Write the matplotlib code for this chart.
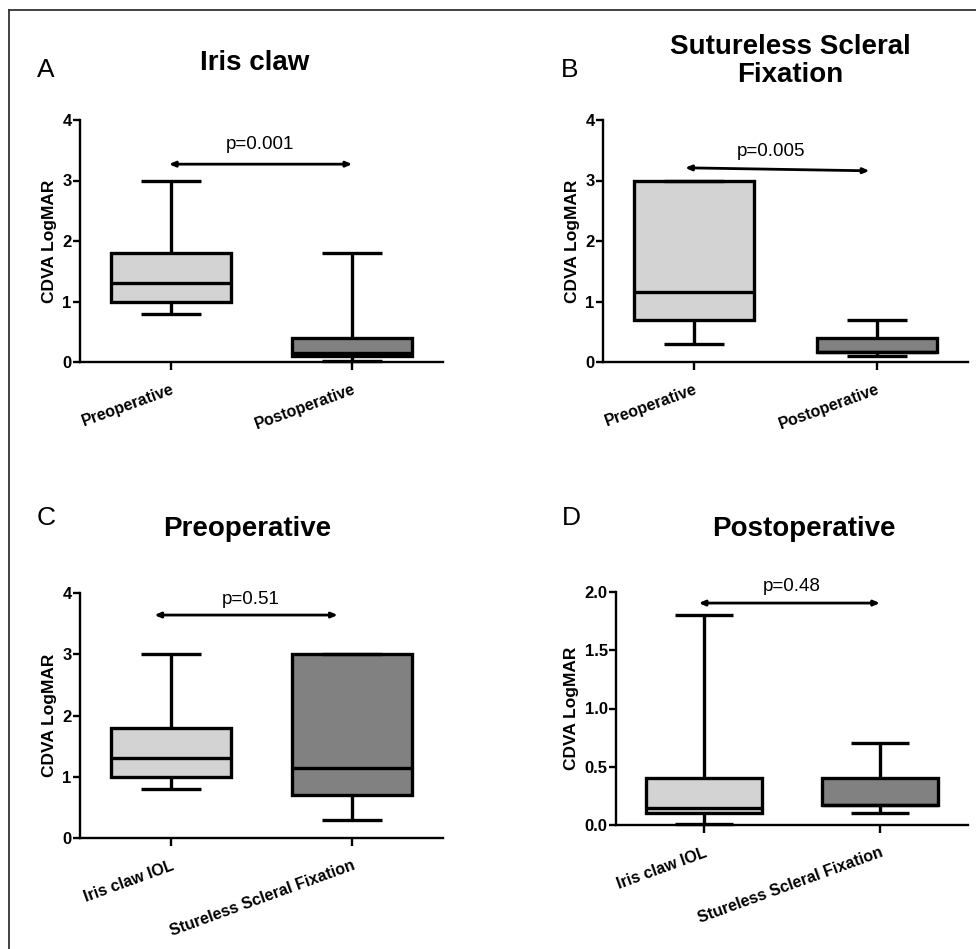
import matplotlib
matplotlib.use("Agg")
import matplotlib.pyplot as plt
from matplotlib.lines import Line2D

plt.rcParams["font.family"] = ["Liberation Sans", "DejaVu Sans"]

# box stats: whisker low, Q1, median, Q3, whisker high
iris_pre = [0.8, 1.0, 1.3, 1.8, 3.0]
iris_post = [0.01, 0.1, 0.15, 0.4, 1.8]
ssf_pre = [0.3, 0.7, 1.15, 3.0, 3.0]
ssf_post = [0.1, 0.17, 0.17, 0.4, 0.7]

labels_time = ["Preoperative", "Postoperative"]
labels_iol = ["Iris claw IOL", "Stureless Scleral Fixation"]
fills = ["#d3d3d3", "#818181"]

W, H = 976, 949


def px(x, y):
    return x / W, 1 - y / H


def box_axes(rect_px, groups, labels, ymax, yticks, yticklabels):
    left, top, right, bottom = rect_px
    ax = fig.add_axes([left / W, 1 - bottom / H, (right - left) / W, (bottom - top) / H])
    stats = []
    for g, lab in zip(groups, labels):
        lo, q1, med, q3, hi = g
        stats.append(dict(whislo=lo, q1=q1, med=med, q3=q3, whishi=hi, label=lab))
    lw = 2.4
    bp = ax.bxp(stats, positions=[0, 1], widths=0.66, patch_artist=True,
                showfliers=False,
                boxprops=dict(linewidth=lw, edgecolor="black"),
                medianprops=dict(linewidth=lw, color="black"),
                whiskerprops=dict(linewidth=lw, color="black"),
                capprops=dict(linewidth=lw, color="black"),
                capwidths=0.33)
    for patch, c in zip(bp["boxes"], fills):
        patch.set_facecolor(c)
        patch.set_clip_on(False)
    for k in ("whiskers", "caps", "medians"):
        for art in bp[k]:
            art.set_clip_on(False)
            art.set_solid_capstyle("butt")
    ax.set_xlim(-0.5, 1.5)
    ax.set_ylim(0, ymax)
    ax.set_yticks(yticks)
    ax.set_yticklabels(yticklabels, fontweight="bold", fontsize=12)
    ax.set_xticks([0, 1])
    ax.set_xticklabels(labels, rotation=20, ha="right", va="top",
                       rotation_mode="anchor", fontweight="bold", fontsize=11.5)
    ax.spines["top"].set_visible(False)
    ax.spines["right"].set_visible(False)
    ax.spines["left"].set_linewidth(1.7)
    ax.spines["bottom"].set_linewidth(1.7)
    ax.tick_params(axis="y", length=5, width=1.7, pad=1)
    ax.tick_params(axis="x", length=5.5, width=1.7, pad=9)
    ax.set_ylabel("CDVA LogMAR", fontweight="bold", fontsize=12.5, labelpad=4)
    return ax


def pbar(ax, x0, y0, x1, y1, text, tx, ty):
    ax.annotate("", xy=(x1, y1), xytext=(x0, y0),
                arrowprops=dict(arrowstyle="<|-|>,head_length=0.35,head_width=0.15",
                                color="black", lw=2, shrinkA=0, shrinkB=0))
    ax.text(tx, ty, text, ha="center", va="center", fontsize=13.5)


fig = plt.figure(figsize=(9.76, 9.49), dpi=100)

# frame lines (top and left only)
fig.add_artist(Line2D([9 / W, 9 / W], [0, 1 - 10 / H], color="#333333", lw=1.3))
fig.add_artist(Line2D([9 / W, 1], [1 - 10 / H, 1 - 10 / H], color="#333333", lw=1.3))

ticks4 = [0, 1, 2, 3, 4]
ticks2 = [0.0, 0.5, 1.0, 1.5, 2.0]

axA = box_axes((80, 120, 443, 362), [iris_pre, iris_post], labels_time, 4,
               ticks4, [str(t) for t in ticks4])
pbar(axA, -0.01, 3.27, 1.0, 3.27, "p=0.001", 0.49, 3.6)

axB = box_axes((603, 120, 968, 362), [ssf_pre, ssf_post], labels_time, 4,
               ticks4, [str(t) for t in ticks4])
pbar(axB, -0.05, 3.21, 0.96, 3.16, "p=0.005", 0.42, 3.48)

axC = box_axes((80, 593, 443, 838), [iris_pre, ssf_pre], labels_iol, 4,
               ticks4, [str(t) for t in ticks4])
pbar(axC, -0.09, 3.64, 0.92, 3.64, "p=0.51", 0.44, 3.9)

axD = box_axes((616, 592, 968, 825), [iris_post, ssf_post], labels_iol, 2,
               ticks2, [f"{t:.1f}" for t in ticks2])
pbar(axD, -0.03, 1.905, 1.0, 1.905, "p=0.48", 0.5, 2.05)

# titles and panel letters
fig.text(*px(255, 63), "Iris claw", ha="center", va="center", fontsize=20, fontweight="bold")
fig.text(*px(790, 61), "Sutureless Scleral\nFixation", ha="center", va="center",
         fontsize=20, fontweight="bold", linespacing=1.15)
fig.text(*px(247, 529), "Preoperative", ha="center", va="center", fontsize=20, fontweight="bold")
fig.text(*px(804, 529), "Postoperative", ha="center", va="center", fontsize=20, fontweight="bold")

for letter, (x, y) in zip("ABCD", [(46, 70), (570, 70), (46, 518), (571, 518)]):
    fig.text(*px(x, y), letter, ha="center", va="center", fontsize=19)

fig.savefig("out.png", dpi=100)
